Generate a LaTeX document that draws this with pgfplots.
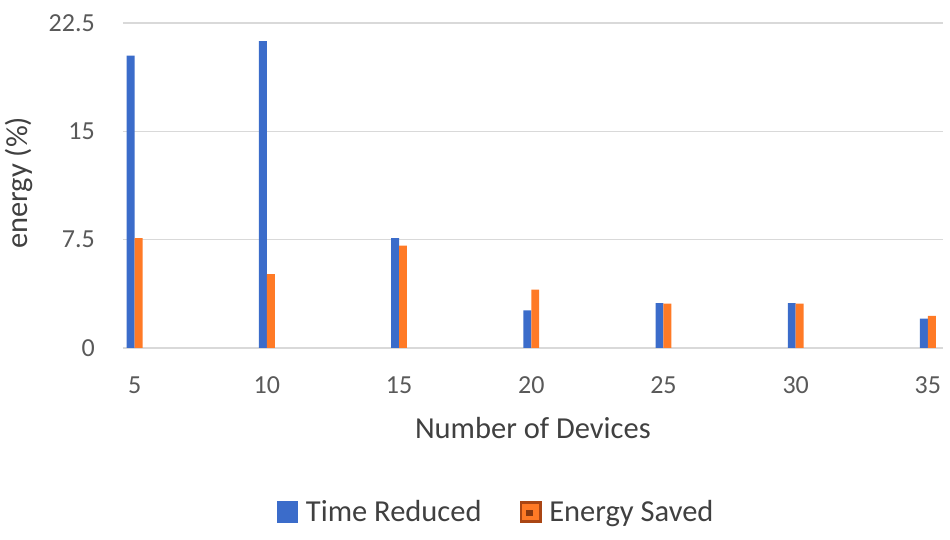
\documentclass[border=0pt]{standalone}
\usepackage{fontspec}
\setmainfont{Carlito}
\usepackage{pgfplots}
\pgfplotsset{compat=1.18}

\definecolor{tblue}{RGB}{59,108,202}
\definecolor{torange}{RGB}{255,122,38}
\definecolor{obrown}{RGB}{170,70,20}
\definecolor{gridgray}{RGB}{217,217,217}
\definecolor{ticktext}{RGB}{89,89,89}
\definecolor{labeltext}{RGB}{64,64,64}

\begin{document}
\begin{tikzpicture}
\begin{axis}[
    width=819.7pt, height=325pt, scale only axis,
    xmin=4.56, xmax=35.56,
    ymin=0, ymax=22.5,
    xtick={5,10,15,20,25,30,35},
    xticklabels={5,10,15,20,25,30,35},
    ytick={0,7.5,15,22.5},
    yticklabels={0,7.5,15,22.5},
    ymajorgrids,
    grid style={draw=gridgray, line width=1.2pt},
    axis line style={draw=none},
    major tick style={draw=none},
    tick label style={font=\fontsize{26}{30}\selectfont, text=ticktext, inner sep=0pt},
    yticklabel style={anchor=east, xshift=-28pt},
    xticklabel style={anchor=north, yshift=-28.7pt},
    xlabel={Number of Devices},
    ylabel={energy (\%)},
    label style={font=\fontsize{30.5}{34}\selectfont, text=labeltext, inner sep=0pt},
    xlabel style={at={(axis description cs:0.5,0)}, anchor=north, yshift=-69pt},
    ylabel style={at={(axis description cs:-0.1098,0.508)}, anchor=south},
    legend columns=2,
    legend style={at={(axis description cs:0.4538,-0.5046)}, anchor=center,
        draw=none, fill=none, inner sep=0pt,
        font=\fontsize{30.5}{34}\selectfont, text=labeltext,
        nodes={inner sep=0pt},
        /tikz/every odd column/.append style={column sep=7.7pt},
        /tikz/every even column/.append style={column sep=38.3pt}},
]
\addplot[ybar, bar width=0.3, bar shift=-0.15, fill=tblue, draw=none,
    legend image code/.code={\fill[tblue] (0pt,-10.85pt) rectangle (21.7pt,10.85pt);}]
    coordinates {(5,20.24) (10,21.24) (15,7.6) (20,2.61) (25,3.1) (30,3.1) (35,2.03)};
\addlegendentry{Time Reduced}
\addplot[ybar, bar width=0.3, bar shift=0.15, fill=torange, draw=none,
    legend image code/.code={
        \fill[obrown] (0pt,-10.85pt) rectangle (21.7pt,10.85pt);
        \fill[torange] (2.5pt,-8.35pt) rectangle (19.2pt,8.35pt);
        \fill[obrown!80!black] (6.5pt,-4.5pt) rectangle (13pt,2pt);}]
    coordinates {(5,7.6) (10,5.12) (15,7.08) (20,4.04) (25,3.07) (30,3.07) (35,2.22)};
\addlegendentry{Energy Saved}
\end{axis}
\pgfresetboundingbox
\path[use as bounding box] (-123pt,-192pt) rectangle (827pt,348pt);
\end{tikzpicture}
\end{document}
